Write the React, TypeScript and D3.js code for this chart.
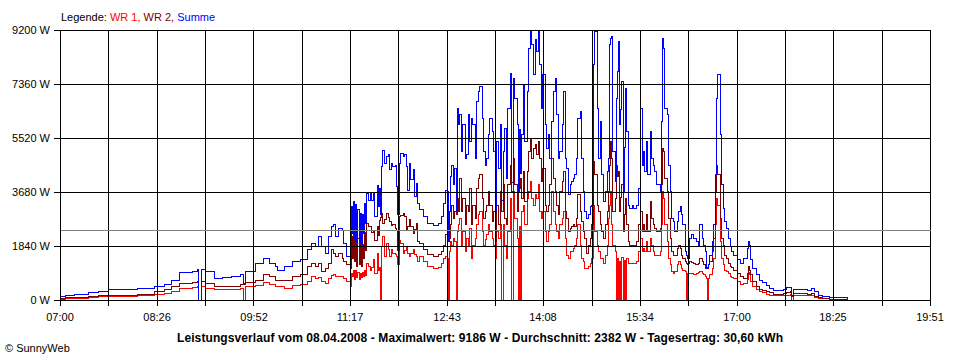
import { useEffect, useRef } from 'react';
import * as d3 from 'd3';

// Messzeitpunkte (Uhrzeit) und Leistung in W je Wechselrichter
const times = [
  '07:01', '07:05', '07:13', '07:25', '07:34', '07:43', '07:55', '08:09', '08:24', '08:33',
  '08:39', '08:46', '08:57', '09:02', '09:03', '09:04', '09:05', '09:09', '09:17', '09:24',
  '09:32', '09:40', '09:42', '09:43', '09:44', '09:53', '10:00', '10:06', '10:11', '10:13',
  '10:19', '10:26', '10:33', '10:39', '10:43', '10:46', '10:49', '10:52', '10:55', '10:58',
  '11:01', '11:02', '11:04', '11:07', '11:10', '11:11', '11:14', '11:17', '11:18', '11:19',
  '11:20', '11:21', '11:22', '11:23', '11:24', '11:25', '11:26', '11:27', '11:28', '11:29',
  '11:30', '11:31', '11:32', '11:33', '11:35', '11:36', '11:38', '11:39', '11:41', '11:42',
  '11:43', '11:44', '11:45', '11:46', '11:48', '11:49', '11:51', '11:52', '11:54', '11:55',
  '11:57', '11:58', '11:59', '12:01', '12:02', '12:04', '12:05', '12:07', '12:08', '12:10',
  '12:11', '12:13', '12:14', '12:16', '12:17', '12:19', '12:22', '12:26', '12:31', '12:35',
  '12:38', '12:40', '12:42', '12:43', '12:44', '12:45', '12:46', '12:47', '12:49', '12:50',
  '12:51', '12:52', '12:53', '12:54', '12:56', '12:57', '12:59', '13:00', '13:02', '13:03',
  '13:05', '13:06', '13:08', '13:09', '13:11', '13:12', '13:14', '13:15', '13:17', '13:18',
  '13:20', '13:21', '13:23', '13:24', '13:26', '13:27', '13:29', '13:30', '13:31', '13:33',
  '13:34', '13:36', '13:37', '13:39', '13:40', '13:42', '13:43', '13:45', '13:46', '13:47',
  '13:48', '13:49', '13:51', '13:52', '13:54', '13:55', '13:57', '13:58', '14:00', '14:01',
  '14:02', '14:04', '14:05', '14:07', '14:08', '14:10', '14:11', '14:13', '14:14', '14:16',
  '14:17', '14:19', '14:20', '14:22', '14:23', '14:25', '14:26', '14:28', '14:29', '14:31',
  '14:32', '14:33', '14:35', '14:36', '14:38', '14:39', '14:41', '14:42', '14:44', '14:45',
  '14:47', '14:48', '14:50', '14:51', '14:53', '14:54', '14:56', '14:57', '14:59', '15:00',
  '15:02', '15:03', '15:05', '15:06', '15:07', '15:08', '15:09', '15:10', '15:12', '15:13',
  '15:14', '15:15', '15:16', '15:17', '15:18', '15:19', '15:20', '15:21', '15:22', '15:24',
  '15:25', '15:27', '15:28', '15:31', '15:33', '15:34', '15:36', '15:37', '15:38', '15:40',
  '15:41', '15:43', '15:44', '15:46', '15:47', '15:49', '15:50', '15:52', '15:53', '15:54',
  '15:55', '15:56', '15:58', '15:59', '16:01', '16:02', '16:04', '16:05', '16:07', '16:08',
  '16:10', '16:11', '16:12', '16:14', '16:15', '16:16', '16:17', '16:18', '16:20', '16:21',
  '16:23', '16:24', '16:26', '16:27', '16:29', '16:30', '16:32', '16:33', '16:34', '16:35',
  '16:36', '16:38', '16:39', '16:41', '16:42', '16:43', '16:45', '16:46', '16:48', '16:49',
  '16:51', '16:52', '16:54', '16:55', '16:57', '17:00', '17:03', '17:06', '17:09', '17:10',
  '17:11', '17:12', '17:14', '17:17', '17:20', '17:23', '17:26', '17:29', '17:32', '17:38',
  '17:41', '17:44', '17:47', '17:48', '17:50', '17:56', '18:02', '18:06', '18:09', '18:12',
  '18:16', '18:22', '18:31', '18:38',
];

const wr1 = [
  25, 35, 58, 92, 112, 126, 136, 147, 204, 238,
  306, 398, 426, 454, 0, 0, 454, 375, 341, 341,
  341, 398, 400, 0, 443, 511, 590, 545, 454, 443,
  398, 511, 520, 625, 795, 738, 772, 625, 568, 738,
  818, 852, 795, 795, 795, 738, 625, 454, 909, 800,
  1000, 700, 1000, 750, 950, 700, 900, 750, 950, 800,
  1000, 850, 1250, 1136, 1022, 1100, 1363, 909, 1590, 1022,
  1100, 0, 1817, 2158, 1477, 1931, 1704, 1477, 1704, 1590,
  1550, 1477, 1200, 2044, 1931, 1590, 1700, 1817, 1600, 1477,
  1600, 1704, 1550, 1477, 1300, 1477, 1306, 1136, 1079, 1113,
  1250, 1420, 1477, 1420, 0, 1647, 1988, 1874, 2101, 2000,
  0, 2329, 2556, 2783, 1874, 2329, 1647, 2101, 1874, 2442,
  1420, 1874, 2101, 2556, 2897, 3010, 2329, 1874, 2045, 2215,
  2556, 2329, 2101, 1874, 1420, 2329, 2101, 2556, 0, 2556,
  1874, 1420, 2329, 3464, 0, 3692, 2783, 2101, 0, 2500,
  0, 3010, 3237, 2556, 3464, 3692, 4032, 3464, 3237, 3578,
  3464, 3919, 3010, 2783, 3010, 2329, 1988, 2329, 2556, 3692,
  3010, 2556, 2329, 2101, 2556, 2783, 3010, 2101, 1533, 1420,
  1647, 1647, 1761, 1874, 2101, 2556, 1874, 1420, 1306, 1079,
  1079, 1136, 1250, 1420, 3237, 2329, 1874, 1647, 1420, 1420,
  1250, 1533, 1874, 2783, 3237, 3692, 2556, 1874, 1647, 0,
  1400, 0, 1300, 0, 1450, 0, 1350, 0, 1420, 1250,
  1250, 1250, 1250, 1306, 1647, 2101, 1647, 1761, 1647, 1988,
  1647, 2101, 1874, 1647, 1533, 1533, 1533, 1647, 2556, 3692,
  3464, 2556, 1988, 1420, 1193, 966, 909, 966, 1193, 1306,
  1193, 1079, 1022, 966, 0, 909, 909, 909, 900, 875,
  880, 909, 930, 966, 909, 852, 795, 738, 0, 738,
  852, 1079, 1420, 2556, 3464, 3237, 1988, 1420, 1193, 1022,
  966, 900, 795, 770, 716, 625, 534, 568, 682, 931,
  852, 625, 477, 341, 273, 239, 204, 170, 148, 148,
  159, 170, 182, 0, 148, 148, 159, 170, 91, 68,
  45, 23, 11, 5,
];

const wr2 = [
  50, 70, 92, 136, 147, 160, 170, 204, 306, 358,
  454, 568, 580, 625, 0, 0, 625, 568, 454, 477,
  477, 534, 540, 545, 580, 681, 852, 784, 681, 681,
  681, 794, 880, 1136, 1250, 1136, 1250, 965, 1079, 1250,
  1704, 1590, 1477, 1590, 1420, 1306, 1193, 1079, 2158, 1400,
  2300, 1300, 2200, 1150, 2100, 1200, 2000, 1150, 1900, 1400,
  2300, 1700, 2612, 2500, 2499, 2300, 2385, 2044, 2499, 2200,
  2700, 2800, 2953, 2612, 2726, 2953, 2800, 2669, 2550, 2556,
  2450, 2385, 1700, 2840, 2896, 2953, 2840, 2385, 2500, 2726,
  2500, 2272, 2400, 2612, 2000, 1931, 1704, 1567, 1499, 1567,
  1647, 1874, 2215, 2442, 1988, 2100, 2556, 3237, 2783, 3000,
  2900, 3464, 3010, 4146, 3010, 3464, 2556, 3237, 3010, 3805,
  2556, 3237, 2783, 3805, 4146, 4260, 3464, 2783, 3010, 3237,
  3692, 3237, 2669, 3010, 1988, 3237, 2556, 3692, 3010, 3919,
  2783, 2556, 3919, 4600, 3692, 4827, 3919, 3010, 3692, 3800,
  4146, 3464, 4373, 3351, 4373, 5055, 5509, 4827, 5168, 5282,
  4941, 5396, 4827, 4032, 4487, 3237, 3010, 3237, 3919, 4827,
  4146, 3692, 3237, 2897, 3692, 4032, 4373, 3010, 2783, 2329,
  2442, 2499, 2556, 2499, 2783, 3578, 3010, 2669, 2329, 2101,
  1590, 1874, 2101, 2556, 4714, 4260, 3237, 3010, 2556, 2329,
  2101, 2556, 3010, 3692, 4600, 5396, 4827, 3010, 3464, 4600,
  4200, 4373, 3010, 3500, 3919, 2329, 2900, 3464, 2556, 1988,
  1874, 1874, 1874, 1988, 2556, 3010, 2329, 2556, 2329, 2897,
  2329, 3351, 2783, 2556, 2442, 2329, 2329, 2442, 3919, 5168,
  5055, 4146, 3692, 2783, 2101, 1647, 1533, 1533, 1761, 1874,
  1761, 1533, 1420, 1306, 1250, 1193, 1250, 1306, 1280, 1250,
  1220, 1193, 1250, 1420, 1306, 1193, 1079, 1079, 1090, 1193,
  1306, 1647, 2101, 3692, 4600, 4260, 2783, 2101, 1874, 1533,
  1420, 1250, 1136, 1100, 1022, 909, 795, 738, 909, 1136,
  1022, 852, 625, 454, 363, 318, 284, 239, 204, 193,
  216, 250, 273, 114, 227, 216, 204, 227, 114, 80,
  57, 34, 23, 10,
];

const summe = [
  112, 170, 204, 250, 306, 352, 365, 398, 454, 534,
  681, 943, 965, 1045, 0, 0, 1045, 965, 738, 773,
  794, 852, 860, 568, 965, 1250, 1420, 1250, 1135, 1022,
  1135, 1306, 1363, 1704, 1931, 1817, 2158, 1817, 1590, 2158,
  2499, 2556, 2158, 2442, 2385, 1931, 1477, 1363, 3180, 2250,
  3350, 2050, 3250, 1950, 3100, 1950, 2950, 1900, 2900, 2250,
  3300, 2600, 3635, 3407, 3635, 3407, 3635, 2840, 3900, 3200,
  3800, 2900, 4543, 5111, 4657, 4884, 4941, 4430, 4657, 4543,
  4600, 3862, 2900, 4657, 4998, 4884, 4941, 4543, 3748, 4657,
  4089, 4430, 3521, 3976, 3294, 3067, 2840, 2612, 2522, 2612,
  2840, 3294, 3748, 3692, 1988, 3010, 4200, 4600, 3919, 4487,
  3000, 6531, 5964, 6304, 5055, 5964, 4827, 4941, 6304, 5396,
  6190, 5964, 4827, 6759, 7099, 7270, 6190, 5055, 4600, 4827,
  5623, 6190, 5736, 5055, 3010, 5396, 4487, 5964, 3400, 5055,
  5850, 4146, 6531, 7724, 4000, 7554, 6872, 5964, 3700, 5800,
  4300, 5623, 7327, 5396, 7099, 8576, 9186, 8690, 7667, 8860,
  8462, 9143, 8008, 6531, 7667, 5964, 5168, 5623, 4827, 6077,
  7099, 7554, 6304, 4827, 5055, 5964, 7099, 4827, 4487, 3578,
  3919, 4032, 4146, 4260, 4827, 6190, 6418, 4827, 3692, 3010,
  2783, 2897, 3181, 3237, 8008, 9143, 6531, 4827, 6077, 4260,
  3351, 3692, 4373, 4827, 8690, 8917, 8974, 5055, 4032, 6872,
  7800, 8804, 5964, 6500, 7440, 3692, 5200, 7213, 5736, 3237,
  3124, 3237, 3124, 3237, 3805, 6531, 4600, 5055, 4373, 5396,
  4260, 5736, 4827, 4600, 4373, 3919, 3919, 3692, 6077, 8917,
  8576, 6531, 6304, 4600, 3692, 2783, 2669, 2329, 2669, 3010,
  3181, 2897, 2556, 1647, 1500, 1420, 1420, 2101, 2215, 2101,
  2101, 1988, 1874, 2556, 2101, 1874, 1647, 1079, 1100, 1193,
  1533, 1988, 2556, 4260, 6872, 7667, 5623, 3919, 3124, 2669,
  2442, 2101, 1817, 1647, 1533, 1363, 1250, 1420, 1761, 1988,
  1874, 1363, 1079, 852, 681, 591, 511, 398, 318, 307,
  341, 432, 432, 170, 363, 341, 318, 398, 284, 170,
  136, 80, 80, 34,
];

const yTicks = [0, 1840, 3680, 5520, 7360, 9200];
const xTickLabels = ['07:00', '08:26', '09:52', '11:17', '12:43', '14:08', '15:34', '17:00', '18:25', '19:51'];
const average = 2382;
const title = 'Leistungsverlauf vom 08.04.2008 - Maximalwert: 9186 W - Durchschnitt: 2382 W - Tagesertrag: 30,60 kWh';

const FONT = '"Liberation Sans", Arial, sans-serif';

export default function App() {
  const svgRef = useRef<SVGSVGElement>(null);

  useEffect(() => {
    if (!svgRef.current) return;
    document.body.style.margin = '0';

    const svg = d3.select(svgRef.current);
    svg.selectAll('*').remove();

    const margin = { top: 30, right: 30, bottom: 60, left: 60 };
    const width = 960;
    const height = 360;

    const parse = d3.timeParse('%H:%M');
    const start = parse('07:00') as Date;
    const end = parse('19:51') as Date;

    const x = d3.scaleTime().domain([start, end]).range([margin.left, width - margin.right]);
    const y = d3.scaleLinear().domain([0, 9200]).range([height - margin.bottom, margin.top]);
    const snap = (v: number) => Math.round(v) + 0.5;

    svg.append('rect').attr('width', width).attr('height', height).attr('fill', '#fff');

    // Kurven: WR 1, WR 2, Summe
    const n = Math.min(times.length, wr1.length, wr2.length, summe.length);
    const tx = times.slice(0, n).map(t => x(parse(t) as Date));
    const line = d3.line<number>()
      .x((_, i) => tx[i])
      .y(d => y(d))
      .curve(d3.curveStepAfter);

    const series = [
      { values: wr1, color: '#ff0000' },
      { values: wr2, color: '#800000' },
      { values: summe, color: '#0000ff' },
    ];
    series.forEach(s => {
      svg.append('path')
        .datum(s.values.slice(0, n))
        .attr('fill', 'none')
        .attr('stroke', s.color)
        .attr('stroke-width', 1)
        .attr('shape-rendering', 'crispEdges')
        .attr('d', line);
    });

    // Gitter
    const grid = svg.append('g').attr('stroke', '#000').attr('stroke-width', 1).attr('shape-rendering', 'crispEdges');
    const span = end.getTime() - start.getTime();
    const gridTimes = d3.range(19).map(i => new Date(start.getTime() + (i * span) / 18));
    gridTimes.forEach(t => {
      grid.append('line')
        .attr('x1', snap(x(t))).attr('x2', snap(x(t)))
        .attr('y1', snap(y(9200))).attr('y2', snap(y(0)) + 5);
    });
    yTicks.forEach(v => {
      grid.append('line')
        .attr('x1', margin.left - 6).attr('x2', snap(x(end)))
        .attr('y1', snap(y(v))).attr('y2', snap(y(v)));
    });

    // Durchschnitt
    svg.append('line')
      .attr('x1', snap(x(start)) + 0.5).attr('x2', snap(x(end)))
      .attr('y1', snap(y(average))).attr('y2', snap(y(average)))
      .attr('stroke', '#808080')
      .attr('shape-rendering', 'crispEdges');

    const text = svg.append('g').attr('font-family', FONT).attr('font-size', 11).attr('fill', '#000');

    yTicks.forEach(v => {
      text.append('text')
        .attr('x', margin.left - 10)
        .attr('y', y(v) + 4)
        .attr('text-anchor', 'end')
        .text(`${v} W`);
    });

    xTickLabels.forEach(l => {
      text.append('text')
        .attr('x', x(parse(l) as Date))
        .attr('y', 321)
        .attr('text-anchor', 'middle')
        .text(l);
    });

    text.append('text')
      .attr('x', width / 2)
      .attr('y', 342)
      .attr('text-anchor', 'middle')
      .attr('font-weight', 'bold')
      .attr('font-size', 12)
      .attr('textLength', 606)
      .attr('lengthAdjust', 'spacing')
      .text(title);

    text.append('text')
      .attr('x', 5)
      .attr('y', 352)
      .text('\u00a9 SunnyWeb');

    // Legende
    const legend = text.append('text').attr('x', 61).attr('y', 21);
    legend.append('tspan').text('Legende: ');
    legend.append('tspan').attr('fill', '#ff0000').text('WR 1, ');
    legend.append('tspan').attr('fill', '#800000').text('WR 2, ');
    legend.append('tspan').attr('fill', '#0000ff').text('Summe');
  }, []);

  return <svg ref={svgRef} width={960} height={360} style={{ display: 'block' }} />;
}
